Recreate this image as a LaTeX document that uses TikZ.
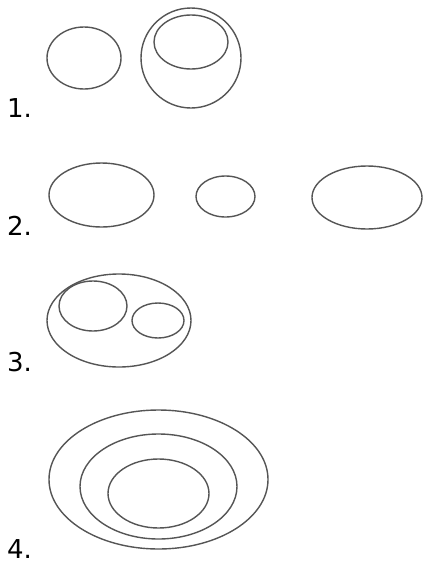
\documentclass[tikz,border=0pt]{standalone}
\usepackage{fontspec}
\setmainfont{DejaVu Sans}
\definecolor{inkgray}{RGB}{85,85,85}
\tikzset{
  ring/.style={draw=inkgray, line width=1.4pt},
  numlabel/.style={anchor=base west, inner sep=0pt, font=\fontsize{26}{30}\selectfont}
}
\begin{document}
\begin{tikzpicture}[x=1pt,y=-1pt]
\useasboundingbox[fill=white] (0,0) rectangle (424,563);
% 1
\draw[ring] (84,58) ellipse [x radius=37pt, y radius=31pt];
\draw[ring] (191,58) ellipse [x radius=50pt, y radius=50pt];
\draw[ring] (191,42) ellipse [x radius=37pt, y radius=27pt];
\node[numlabel] (l1) at (7,117) {1.};
% 2
\draw[ring] (101.5,195) ellipse [x radius=52.5pt, y radius=32pt];
\draw[ring] (225.5,196.5) ellipse [x radius=29.5pt, y radius=20.5pt];
\draw[ring] (367,197.5) ellipse [x radius=55pt, y radius=31.5pt];
\node[numlabel] (l2) at (7,235) {2.};
% 3
\draw[ring] (119,320.5) ellipse [x radius=72pt, y radius=46.5pt];
\draw[ring] (93,306) ellipse [x radius=34pt, y radius=25pt];
\draw[ring] (158,320.5) ellipse [x radius=26pt, y radius=17.5pt];
\node[numlabel] (l3) at (7,371) {3.};
% 4
\draw[ring] (158.5,479.5) ellipse [x radius=109.5pt, y radius=69.5pt];
\draw[ring] (158.5,486.5) ellipse [x radius=78.5pt, y radius=52.5pt];
\draw[ring] (158.5,493.5) ellipse [x radius=50.5pt, y radius=34.5pt];
\node[numlabel] (l4) at (7,558) {4.};
\end{tikzpicture}
\end{document}
